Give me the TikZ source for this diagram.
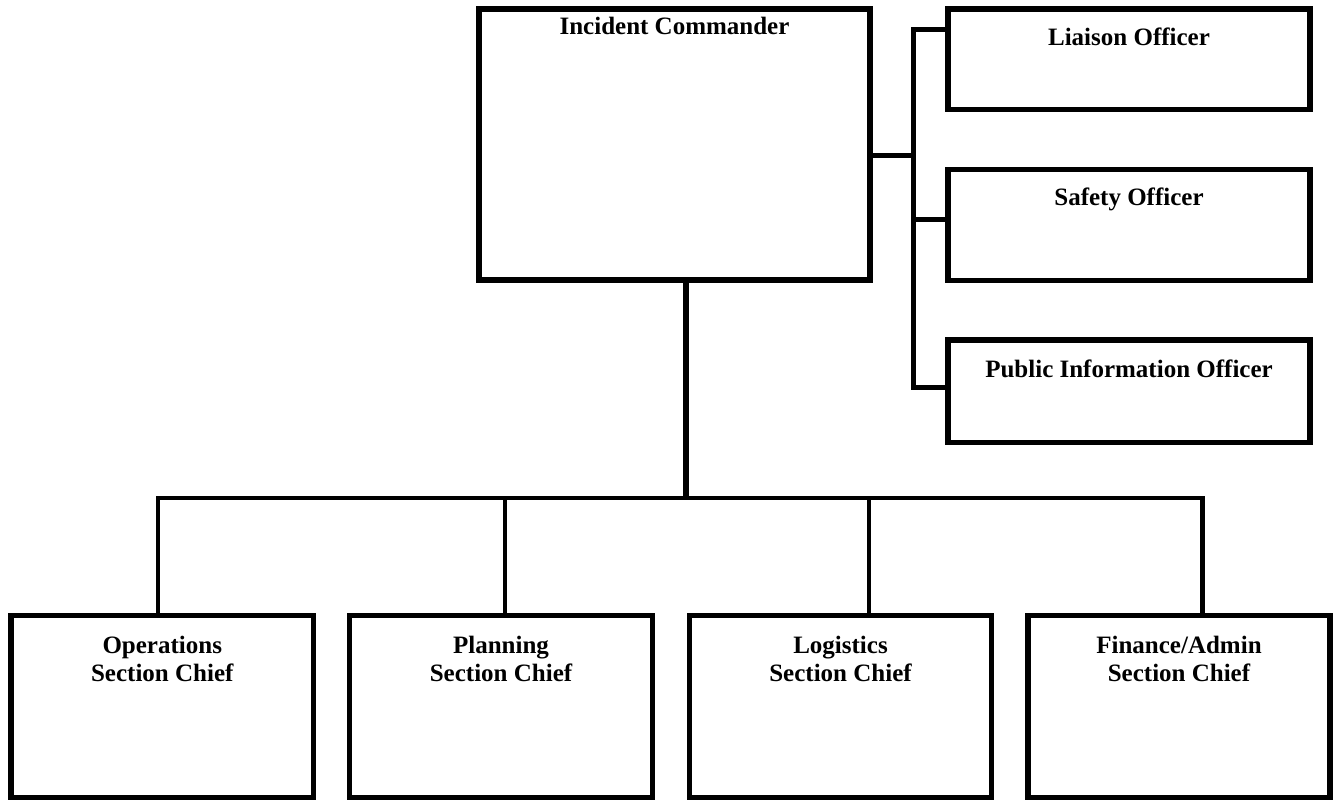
\documentclass[tikz,border=0pt]{standalone}
\usepackage{fontspec}
\setmainfont{Liberation Serif}
\begin{document}
\begin{tikzpicture}[x=1pt,y=-1pt,
  box/.style={draw=black, line width=5.5pt, rectangle, inner sep=0pt, outer sep=0pt, anchor=north west},
  lbl/.style={font=\fontsize{25}{28.5}\selectfont\bfseries, align=center, inner sep=0pt, anchor=base},
  wire/.style={draw=black, line width=5pt},
  bus/.style={draw=black, line width=4.5pt}]
\useasboundingbox[fill=white] (0,0) rectangle (1333,800);

% command and staff boxes
\node[box, minimum width=391pt, minimum height=271pt] (ic) at (479,9) {};
\node[box, minimum width=362pt, minimum height=100.5pt] (li) at (948,9) {};
\node[box, minimum width=362pt, minimum height=111pt] (sa) at (948,169.5) {};
\node[box, minimum width=362pt, minimum height=102.5pt] (pi) at (948,340) {};

% general staff boxes
\node[box, minimum width=302.5pt, minimum height=182pt] (ops) at (11,615.5) {};
\node[box, minimum width=303pt, minimum height=182pt] (pla) at (349.5,615.5) {};
\node[box, minimum width=302pt, minimum height=182pt] (log) at (689.5,615.5) {};
\node[box, minimum width=302pt, minimum height=182pt] (fin) at (1028,615.5) {};

% titles (two-line titles sit on the baseline of their last line)
\node[lbl] (tic) at ([yshift=-26pt]ic.north) {Incident Commander};
\node[lbl] (tli) at ([yshift=-37pt]li.north) {Liaison Officer};
\node[lbl] (tsa) at ([yshift=-35.5pt]sa.north) {Safety Officer};
\node[lbl] (tpi) at ([yshift=-37pt]pi.north) {Public Information Officer};
\node[lbl] (tops) at ([yshift=-66pt]ops.north) {Operations\\Section Chief};
\node[lbl] (tpla) at ([yshift=-66pt]pla.north) {Planning\\Section Chief};
\node[lbl] (tlog) at ([yshift=-66pt]log.north) {Logistics\\Section Chief};
\node[lbl] (tfin) at ([yshift=-66pt]fin.north) {Finance/Admin\\Section Chief};

% staff connectors
\coordinate (rt) at (913.5,155.5);
\coordinate (tLi) at (913.5,29.5);
\coordinate (tSa) at (913.5,219);
\coordinate (tPi) at (913.5,387.5);
\draw[wire] (rt -| ic.east) -- (rt);
\draw[wire] (tLi -| li.west) -- (tLi) -- (tPi) -- (tPi -| pi.west);
\draw[wire] (tSa) -- (tSa -| sa.west);

% section connectors
\coordinate (hub) at (686,498);
\coordinate (bOps) at (158,498);
\coordinate (bPla) at (505,498);
\coordinate (bLog) at (869,498);
\coordinate (bFin) at (1202.5,498);
\draw[wire, line width=6pt] (hub |- ic.south) -- (hub);
\draw[bus] (bOps |- ops.north) -- (bOps) -- (bFin) -- (bFin |- fin.north);
\draw[bus] (bPla) -- (bPla |- pla.north);
\draw[bus] (bLog) -- (bLog |- log.north);
\end{tikzpicture}
\end{document}
